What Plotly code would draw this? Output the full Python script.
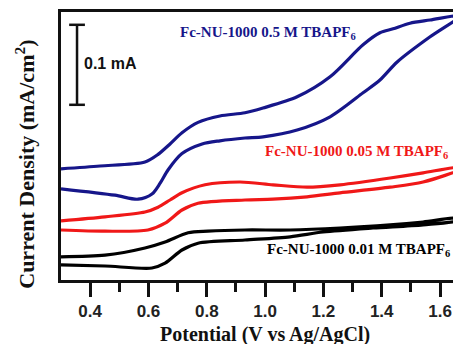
import plotly.graph_objects as go

# ---- data (potential in V vs Ag/AgCl, current density in mA/cm^2, offset stacked) ----
blue_fwd_x = [0.300, 0.434, 0.588, 0.633, 0.674, 0.715, 0.770, 0.845, 0.931, 0.993, 1.110, 1.223, 1.336, 1.394, 1.439, 1.497, 1.566, 1.672]
blue_fwd_y = [0.139, 0.1425, 0.1475, 0.157, 0.170, 0.184, 0.197, 0.205, 0.209, 0.215, 0.229, 0.254, 0.294, 0.309, 0.314, 0.321, 0.325, 0.331]
blue_rev_x = [1.672, 1.566, 1.453, 1.394, 1.336, 1.223, 1.110, 0.993, 0.931, 0.845, 0.784, 0.715, 0.667, 0.640, 0.612, 0.564, 0.485, 0.300]
blue_rev_y = [0.330, 0.304, 0.2725, 0.250, 0.234, 0.204, 0.1875, 0.179, 0.1775, 0.174, 0.170, 0.158, 0.1375, 0.121, 0.1075, 0.101, 0.106, 0.114]

red_fwd_x = [0.300, 0.451, 0.588, 0.633, 0.674, 0.715, 0.794, 0.914, 1.027, 1.144, 1.257, 1.429, 1.542, 1.672]
red_fwd_y = [0.074, 0.079, 0.085, 0.091, 0.100, 0.109, 0.119, 0.1225, 0.119, 0.116, 0.119, 0.1275, 0.134, 0.141]
red_rev_x = [1.672, 1.542, 1.429, 1.257, 1.144, 1.027, 0.931, 0.770, 0.715, 0.657, 0.598, 0.451, 0.300]
red_rev_y = [0.139, 0.1225, 0.116, 0.109, 0.104, 0.101, 0.100, 0.096, 0.0875, 0.071, 0.0625, 0.061, 0.0625]

black_fwd_x = [0.300, 0.451, 0.588, 0.657, 0.736, 0.804, 0.931, 1.086, 1.257, 1.429, 1.542, 1.672]
black_fwd_y = [0.029, 0.031, 0.040, 0.0475, 0.059, 0.061, 0.0625, 0.0625, 0.065, 0.069, 0.0725, 0.0775]
black_rev_x = [1.672, 1.542, 1.370, 1.199, 1.086, 0.931, 0.770, 0.715, 0.657, 0.612, 0.451, 0.300]
black_rev_y = [0.075, 0.069, 0.065, 0.060, 0.054, 0.050, 0.046, 0.0375, 0.021, 0.015, 0.0175, 0.019]

series_names = ["Fc-NU-1000 0.5 M TBAPF<sub>6</sub>",
                "Fc-NU-1000 0.05 M TBAPF<sub>6</sub>",
                "Fc-NU-1000 0.01 M TBAPF<sub>6</sub>"]
series_colors = ["#16168a", "#f01818", "#000000"]
label_pos = [(0.700, 0.309), (0.993, 0.160), (1.000, 0.038)]

tick_vals = [0.4, 0.6, 0.8, 1.0, 1.2, 1.4, 1.6]
tick_text = ["0.4", "0.6", "0.8", "1.0", "1.2", "1.4", "1.6"]
minor_vals = [0.5, 0.7, 0.9, 1.1, 1.3, 1.5]

scale_bar_value = 0.1  # mA
scale_bar_x = 0.355
scale_bar_y0 = 0.219

fig = go.Figure()
curves = [
    (blue_fwd_x + blue_rev_x, blue_fwd_y + blue_rev_y),
    (red_fwd_x + red_rev_x, red_fwd_y + red_rev_y),
    (black_fwd_x + black_rev_x, black_fwd_y + black_rev_y),
]
for (xs, ys), name, col in zip(curves, series_names, series_colors):
    fig.add_trace(go.Scatter(x=xs, y=ys, mode="lines", name=name,
                             line=dict(color=col, width=3.2, shape="spline", smoothing=0.8),
                             showlegend=False, hoverinfo="skip"))

serif = "Liberation Serif, Times New Roman, serif"
sans = "Liberation Sans, Arial, sans-serif"

for name, col, (lx, ly) in zip(series_names, series_colors, label_pos):
    fig.add_annotation(x=lx, y=ly, xref="x", yref="y", text=name, showarrow=False,
                       xanchor="left", yanchor="middle",
                       font=dict(family=serif, size=15, color=col, weight="bold"))

# scale bar
cap = 0.027
fig.add_shape(type="line", x0=scale_bar_x, x1=scale_bar_x, y0=scale_bar_y0,
              y1=scale_bar_y0 + scale_bar_value, line=dict(color="#111", width=2.5))
for yy in (scale_bar_y0, scale_bar_y0 + scale_bar_value):
    fig.add_shape(type="line", x0=scale_bar_x - cap, x1=scale_bar_x + cap, y0=yy, y1=yy,
                  line=dict(color="#111", width=2.5))
fig.add_annotation(x=scale_bar_x + 0.018, y=scale_bar_y0 + 0.052, xref="x", yref="y",
                   text="0.1 mA", showarrow=False, xanchor="left", yanchor="middle",
                   font=dict(family=sans, size=16, color="#111", weight="bold"))

# axis titles
fig.add_annotation(x=0.51, y=-0.205, xref="paper", yref="paper",
                   text="Potential (V vs Ag/AgCl)", showarrow=False,
                   xanchor="center", yanchor="middle",
                   font=dict(family=serif, size=20, color="#111", weight="bold"))
fig.add_annotation(x=-0.09, y=0.43, xref="paper", yref="paper",
                   text="Current Density (mA/cm<sup>2</sup>)", showarrow=False,
                   textangle=-90, xanchor="center", yanchor="middle",
                   font=dict(family=serif, size=22, color="#111", weight="bold"))

# page body has an 8px default margin: size figure so it ends at the window edge
fig.update_layout(
    width=453, height=336,
    margin=dict(l=53, r=0, t=4, b=64),
    plot_bgcolor="white", paper_bgcolor="white",
    xaxis=dict(range=[0.3, 1.672], tickvals=tick_vals, ticktext=tick_text,
               showline=True, linecolor="#111", linewidth=3, mirror=True,
               ticks="outside", ticklen=14, tickwidth=3, tickcolor="#111",
               minor=dict(tickvals=minor_vals, ticks="outside",
                          ticklen=9, tickwidth=3, tickcolor="#111"),
               showgrid=False, zeroline=False,
               tickfont=dict(family=sans, size=17, color="#222", weight="bold")),
    yaxis=dict(range=[0, 0.335], showline=True, linecolor="#111", linewidth=3,
               showticklabels=False, ticks="", showgrid=False, zeroline=False),
)

fig.write_html("out.html")
